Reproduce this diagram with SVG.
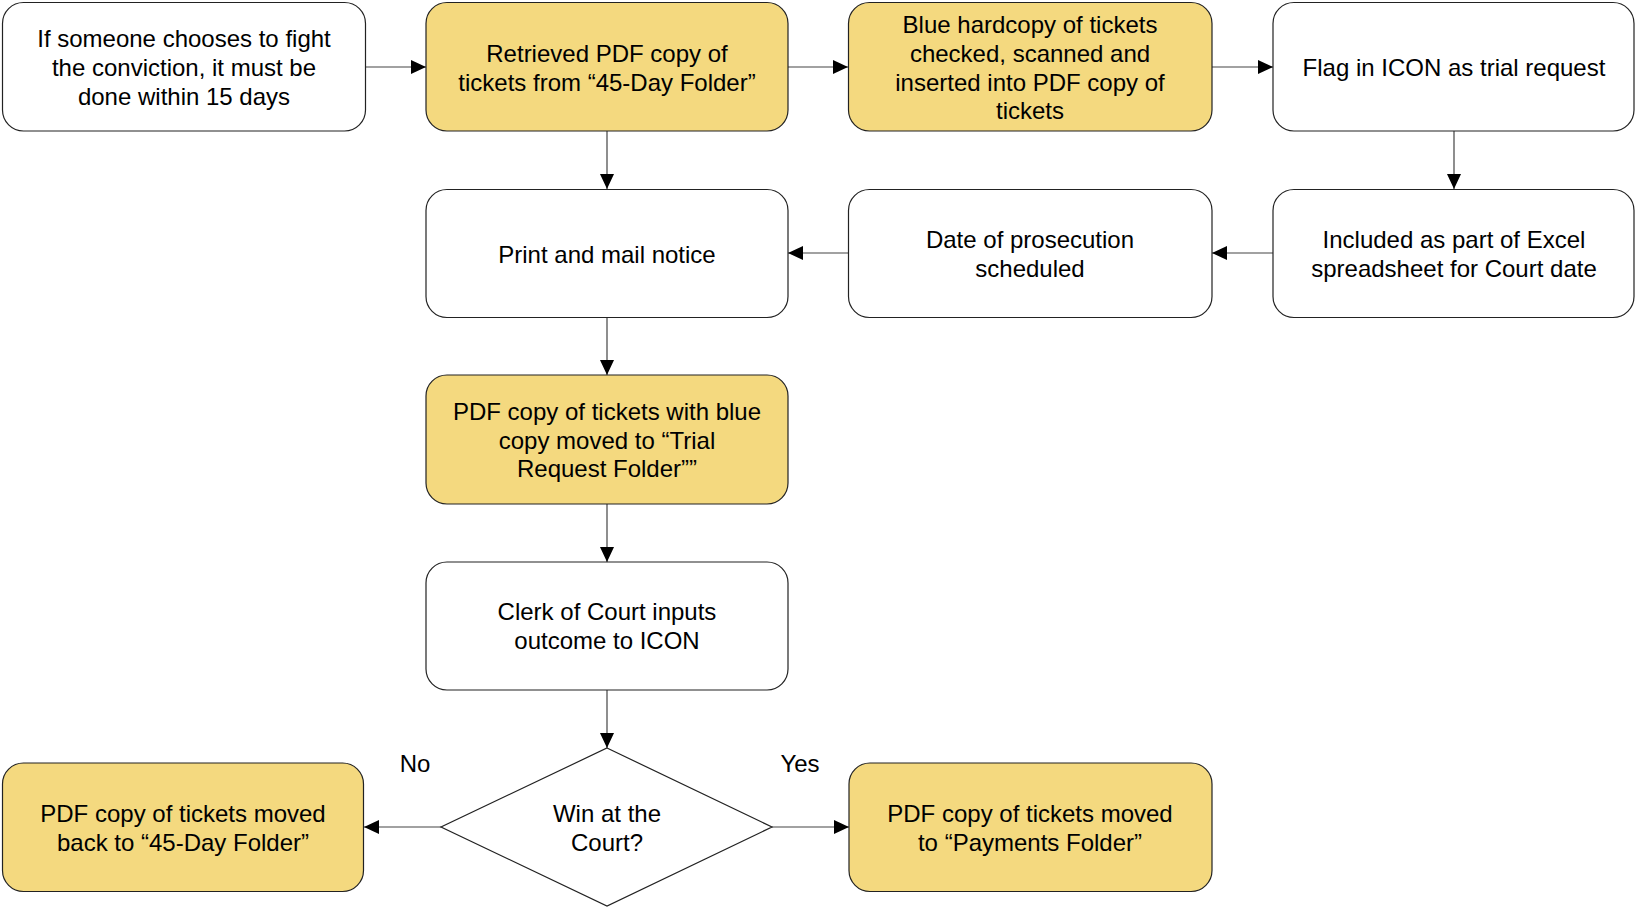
<svg xmlns="http://www.w3.org/2000/svg" width="1635" height="907" viewBox="0 0 1635 907">
  <style>
    .box { stroke: #222; stroke-width: 1.2; }
    .plain { fill: #ffffff; }
    .hl { fill: #F4D97F; }
    .lbl { font-family: "Liberation Sans", Arial, sans-serif; font-size: 24px; fill: #000; text-anchor: middle; }
    .edge { stroke: #444; stroke-width: 1.2; fill: none; marker-end: url(#arrow); }
  </style>
  <defs>
    <marker id="arrow" viewBox="0 0 15 14" refX="15" refY="7" markerWidth="15" markerHeight="14" markerUnits="userSpaceOnUse" orient="auto">
      <path d="M0,0 L15,7 L0,14 Z" fill="#000"/>
    </marker>
  </defs>
  <rect width="1635" height="907" fill="#ffffff"/>

  <g id="connectors">
    <line class="edge" x1="366" y1="67" x2="426" y2="67"/>
    <line class="edge" x1="788" y1="67" x2="848" y2="67"/>
    <line class="edge" x1="1212" y1="67" x2="1273" y2="67"/>
    <line class="edge" x1="607" y1="131" x2="607" y2="189"/>
    <line class="edge" x1="1454" y1="131" x2="1454" y2="189"/>
    <line class="edge" x1="1273" y1="253" x2="1212" y2="253"/>
    <line class="edge" x1="848" y1="253" x2="788" y2="253"/>
    <line class="edge" x1="607" y1="318" x2="607" y2="375"/>
    <line class="edge" x1="607" y1="504" x2="607" y2="562"/>
    <line class="edge" x1="607" y1="690" x2="607" y2="748"/>
    <line class="edge" x1="441" y1="827" x2="364" y2="827"/>
    <line class="edge" x1="772" y1="827" x2="849" y2="827"/>
    <text class="lbl" x="415" y="772">No</text>
    <text class="lbl" x="800" y="772">Yes</text>
  </g>

  <g id="fight">
    <rect class="box plain" x="2.5" y="2.5" width="363" height="128.5" rx="21"/>
    <text class="lbl" x="184" y="47">If someone chooses to fight</text>
    <text class="lbl" x="184" y="76">the conviction, it must be</text>
    <text class="lbl" x="184" y="105">done within 15 days</text>
  </g>

  <g id="retrieve">
    <rect class="box hl" x="426" y="2.5" width="362" height="128.5" rx="21"/>
    <text class="lbl" x="607" y="61.5">Retrieved PDF copy of</text>
    <text class="lbl" x="607" y="90.5">tickets from “45-Day Folder”</text>
  </g>

  <g id="hardcopy">
    <rect class="box hl" x="848.5" y="2.5" width="363.5" height="128.5" rx="21"/>
    <text class="lbl" x="1030" y="33">Blue hardcopy of tickets</text>
    <text class="lbl" x="1030" y="61.5">checked, scanned and</text>
    <text class="lbl" x="1030" y="90.5">inserted into PDF copy of</text>
    <text class="lbl" x="1030" y="119">tickets</text>
  </g>

  <g id="flag">
    <rect class="box plain" x="1273" y="2.5" width="361" height="128.5" rx="21"/>
    <text class="lbl" x="1454" y="76">Flag in ICON as trial request</text>
  </g>

  <g id="excel">
    <rect class="box plain" x="1273" y="189.5" width="361" height="128" rx="21"/>
    <text class="lbl" x="1454" y="248">Included as part of Excel</text>
    <text class="lbl" x="1454" y="277">spreadsheet for Court date</text>
  </g>

  <g id="prosecution">
    <rect class="box plain" x="848.5" y="189.5" width="363.5" height="128" rx="21"/>
    <text class="lbl" x="1030" y="248">Date of prosecution</text>
    <text class="lbl" x="1030" y="277">scheduled</text>
  </g>

  <g id="print">
    <rect class="box plain" x="426" y="189.5" width="362" height="128" rx="21"/>
    <text class="lbl" x="607" y="262.5">Print and mail notice</text>
  </g>

  <g id="trial-folder">
    <rect class="box hl" x="426" y="375" width="362" height="129" rx="21"/>
    <text class="lbl" x="607" y="420">PDF copy of tickets with blue</text>
    <text class="lbl" x="607" y="448.5">copy moved to “Trial</text>
    <text class="lbl" x="607" y="477">Request Folder””</text>
  </g>

  <g id="clerk">
    <rect class="box plain" x="426" y="562" width="362" height="128" rx="21"/>
    <text class="lbl" x="607" y="619.5">Clerk of Court inputs</text>
    <text class="lbl" x="607" y="648.5">outcome to ICON</text>
  </g>

  <g id="decision">
    <polygon class="box plain" points="607,748 772,827 607,906 441,827"/>
    <text class="lbl" x="607" y="821.5">Win at the</text>
    <text class="lbl" x="607" y="850.5">Court?</text>
  </g>

  <g id="back-45day">
    <rect class="box hl" x="2.5" y="763" width="361" height="128.5" rx="21"/>
    <text class="lbl" x="183" y="821.5">PDF copy of tickets moved</text>
    <text class="lbl" x="183" y="850.5">back to “45-Day Folder”</text>
  </g>

  <g id="payments">
    <rect class="box hl" x="849" y="763" width="363" height="128.5" rx="21"/>
    <text class="lbl" x="1030" y="821.5">PDF copy of tickets moved</text>
    <text class="lbl" x="1030" y="850.5">to “Payments Folder”</text>
  </g>
</svg>
